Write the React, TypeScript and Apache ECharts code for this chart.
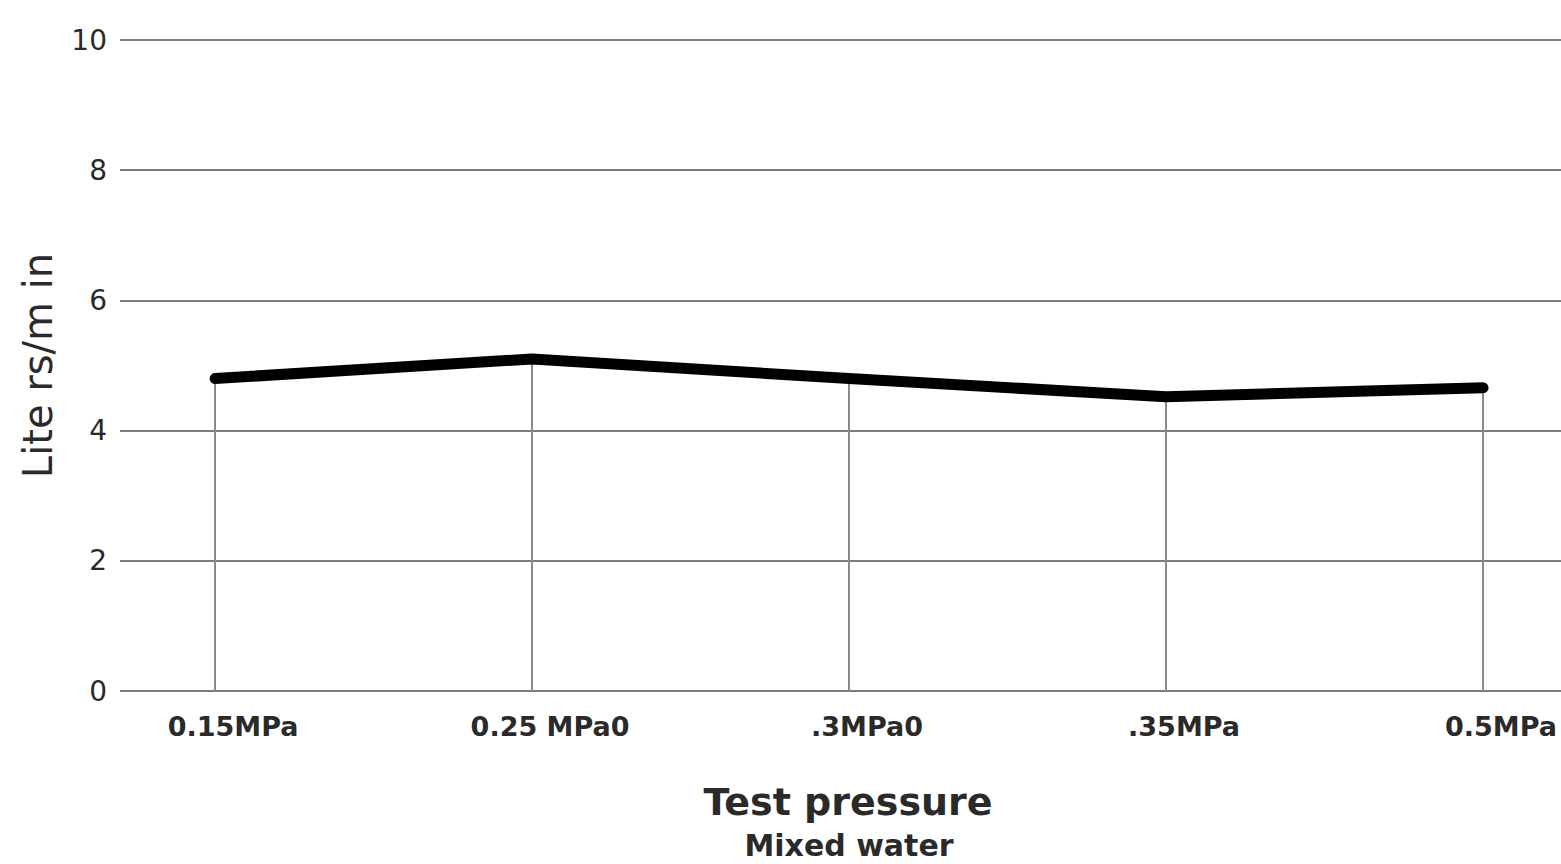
import React, { useEffect, useRef } from "react";
import * as echarts from "echarts";

const categories = ["0.15MPa", "0.25 MPa0", ".3MPa0", ".35MPa", "0.5MPa"];
const categoryIndex = [0, 1, 2, 3, 4];
const flowValues = [4.8, 5.1, 4.8, 4.52, 4.66];
const yTicks = { min: 0, max: 10, interval: 2 };
const xTitle = "Test pressure";
const xSubtitle = "Mixed water";
const yTitle = "Lite rs/m in";

export default function App() {
  const ref = useRef<HTMLDivElement>(null);
  useEffect(() => {
    if (!ref.current) return;
    const chart = echarts.init(ref.current, null, { renderer: "svg" });
    const font = "'DejaVu Sans', 'Noto Sans', sans-serif";
    const points = flowValues.map((v, i) => [categoryIndex[i], v]);
    chart.setOption({
      animation: false,
      backgroundColor: "#ffffff",
      grid: { left: 120, right: 0, top: 40, bottom: 173, containLabel: false },
      xAxis: {
        type: "value",
        min: -0.3,
        max: 4.246,
        axisLine: { show: false },
        axisTick: { show: false, customValues: categoryIndex },
        splitLine: { show: false },
        axisLabel: {
          customValues: categoryIndex,
          margin: 22,
          padding: [0, 0, 0, 36],
          fontFamily: font,
          fontSize: 27,
          fontWeight: "bold",
          color: "#2a2a2a",
          formatter: (v: number) => categories[Math.round(v)] ?? "",
        },
      },
      yAxis: {
        type: "value",
        min: yTicks.min,
        max: yTicks.max,
        interval: yTicks.interval,
        name: yTitle,
        nameLocation: "middle",
        nameGap: 62,
        nameRotate: 90,
        nameTextStyle: { fontFamily: font, fontSize: 40, color: "#2a2a2a" },
        axisLine: { show: false },
        axisTick: { show: false },
        splitLine: { show: true, lineStyle: { color: "#7a7a7a", width: 2 } },
        axisLabel: { margin: 13, fontFamily: font, fontSize: 28, color: "#2a2a2a" },
      },
      series: [
        {
          type: "line",
          data: points,
          symbol: "none",
          lineStyle: { color: "#000", width: 11, cap: "round", join: "round" },
          z: 5,
          markLine: {
            silent: true,
            symbol: "none",
            label: { show: false },
            lineStyle: { color: "#8a8a8a", width: 2, type: "solid" },
            data: flowValues.map((v, i) => [
              { coord: [categoryIndex[i], 0] },
              { coord: [categoryIndex[i], v] },
            ]),
            z: 1,
          },
        },
      ],
      graphic: [
        {
          type: "text",
          x: 848,
          y: 802,
          style: {
            text: xTitle,
            fontFamily: font,
            fontSize: 38,
            fontWeight: "bold",
            fill: "#2a2a2a",
            textAlign: "center",
            textVerticalAlign: "middle",
          },
        },
        {
          type: "text",
          x: 849,
          y: 845,
          style: {
            text: xSubtitle,
            fontFamily: font,
            fontSize: 30,
            fontWeight: "bold",
            fill: "#2a2a2a",
            textAlign: "center",
            textVerticalAlign: "middle",
          },
        },
      ],
    });
    return () => chart.dispose();
  }, []);
  return (
    <div
      ref={ref}
      style={{ position: "fixed", left: 0, top: 0, width: 1561, height: 864, background: "#fff" }}
    />
  );
}
